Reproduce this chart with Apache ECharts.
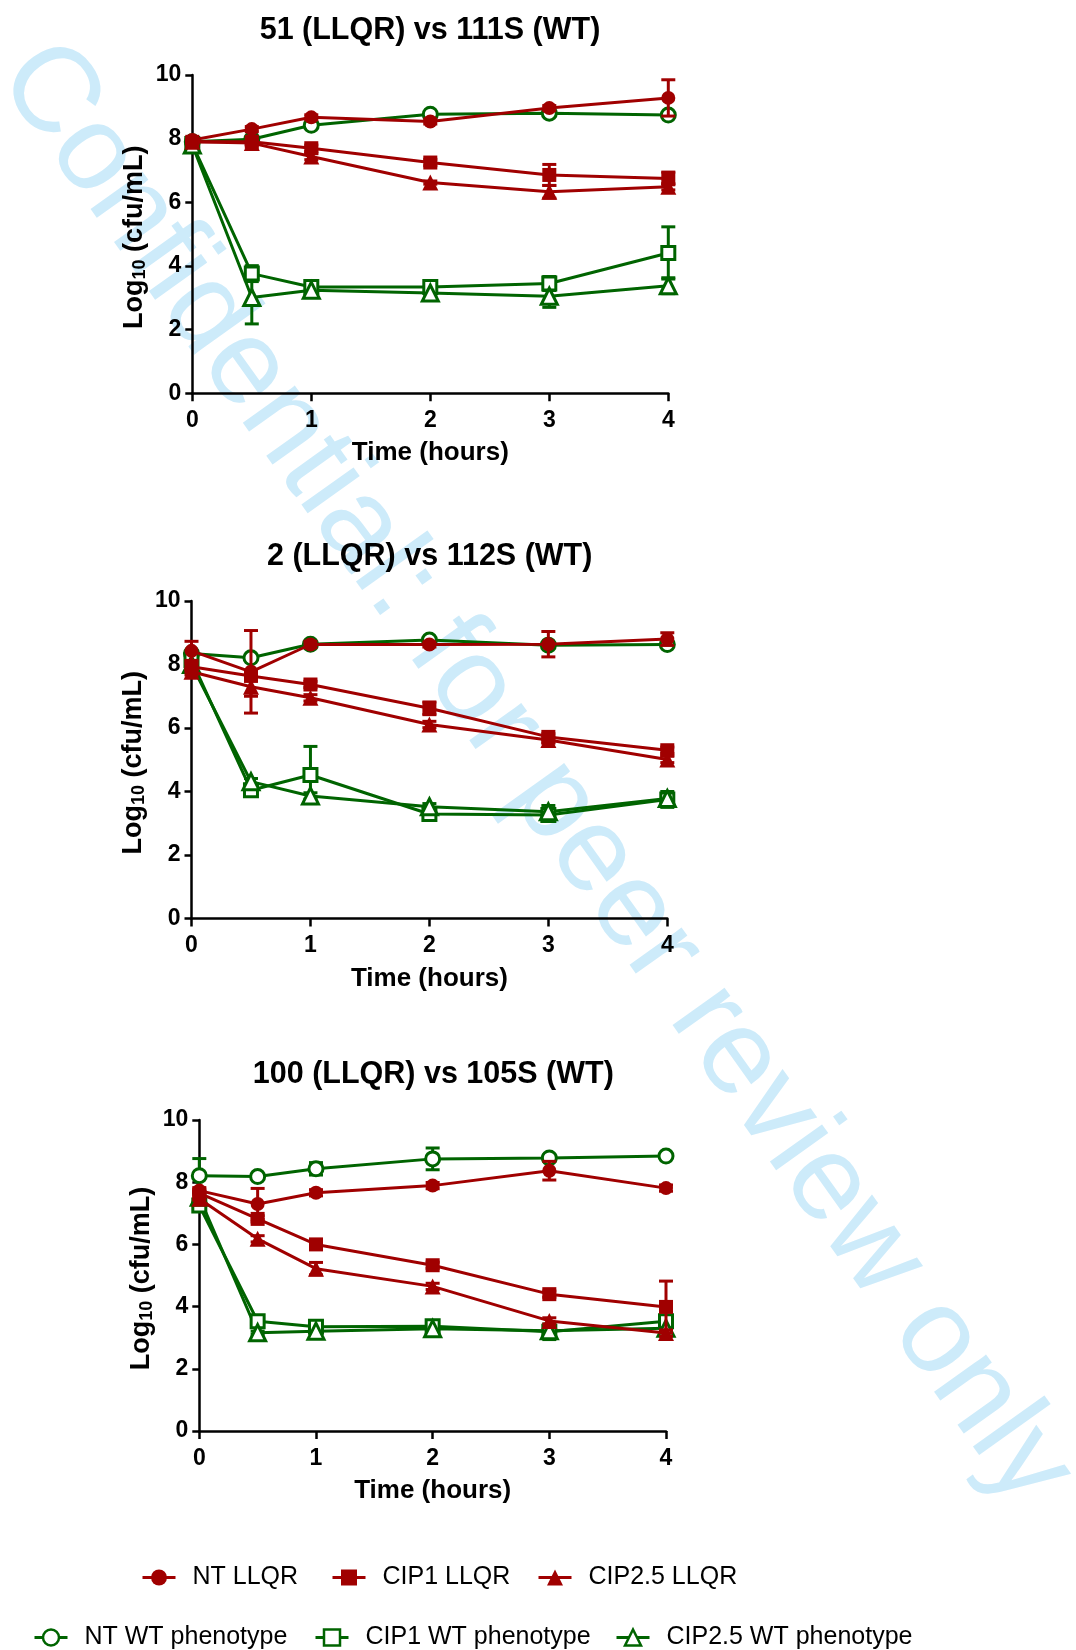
<!DOCTYPE html>
<html>
<head>
<meta charset="utf-8">
<script src="https://cdn.jsdelivr.net/npm/echarts@6/dist/echarts.min.js"></script>
<style>
  html, body { margin: 0; padding: 0; background: #fff; }
  #chart { width: 1076px; height: 1650px; }
</style>
</head>
<body>
<div id="chart"></div>
<script>
// ---------------- DATA ----------------
const timeHours = [0, 0.5, 1, 2, 3, 4];
const panelTitles = ['51 (LLQR) vs 111S (WT)', '2 (LLQR) vs 112S (WT)', '100 (LLQR) vs 105S (WT)'];
const seriesNames = ['NT LLQR', 'CIP1 LLQR', 'CIP2.5 LLQR', 'NT WT phenotype', 'CIP1 WT phenotype', 'CIP2.5 WT phenotype'];
const xAxisTitle = 'Time (hours)';
const watermarkText = 'Confidential: for peer review only';

// Panel 1: 51 (LLQR) vs 111S (WT)
const p1_ntLLQR      = [7.96, 8.30, 8.67, 8.54, 8.96, 9.28];
const p1_ntLLQR_err  = [0.05, 0.08, 0.08, 0.08, 0.08, 0.57];
const p1_cip1LLQR    = [7.90, 7.90, 7.70, 7.25, 6.86, 6.75];
const p1_cip1LLQR_err= [0.05, 0.10, 0.10, 0.10, 0.33, 0.20];
const p1_cip25LLQR   = [7.90, 7.86, 7.44, 6.62, 6.33, 6.49];
const p1_cip25LLQR_err=[0.05, 0.05, 0.10, 0.05, 0.20, 0.10];
const p1_ntWT        = [7.90, 7.98, 8.42, 8.77, 8.80, 8.74];
const p1_ntWT_err    = [0, 0, 0, 0, 0, 0];
const p1_cip1WT      = [7.83, 3.76, 3.34, 3.34, 3.45, 4.41];
const p1_cip1WT_err  = [0.05, 0.25, 0.10, 0.15, 0.22, 0.82];
const p1_cip25WT     = [7.80, 3.01, 3.24, 3.15, 3.05, 3.38];
const p1_cip25WT_err = [0.05, 0.83, 0.10, 0.10, 0.35, 0.25];

// Panel 2: 2 (LLQR) vs 112S (WT)
const p2_ntLLQR      = [8.43, 7.77, 8.63, 8.63, 8.64, 8.80];
const p2_ntLLQR_err  = [0.30, 1.30, 0.10, 0.08, 0.40, 0.20];
const p2_cip1LLQR    = [7.93, 7.64, 7.37, 6.62, 5.72, 5.30];
const p2_cip1LLQR_err= [0.10, 0.10, 0.10, 0.20, 0.10, 0.10];
const p2_cip25LLQR   = [7.77, 7.30, 6.95, 6.11, 5.62, 5.01];
const p2_cip25LLQR_err=[0.10, 0.30, 0.10, 0.10, 0.10, 0.10];
const p2_ntWT        = [8.35, 8.21, 8.64, 8.77, 8.61, 8.63];
const p2_ntWT_err    = [0, 0, 0, 0, 0, 0];
const p2_cip1WT      = [8.14, 4.04, 4.52, 3.29, 3.26, 3.75];
const p2_cip1WT_err  = [0.05, 0.10, 0.90, 0.10, 0.15, 0.25];
const p2_cip25WT     = [8.00, 4.31, 3.86, 3.52, 3.36, 3.78];
const p2_cip25WT_err = [0.05, 0.10, 0.10, 0.10, 0.20, 0.10];

// Panel 3: 100 (LLQR) vs 105S (WT)
const p3_ntLLQR      = [7.73, 7.30, 7.66, 7.89, 8.37, 7.81];
const p3_ntLLQR_err  = [0.05, 0.50, 0.10, 0.10, 0.30, 0.10];
const p3_cip1LLQR    = [7.65, 6.82, 6.00, 5.33, 4.40, 3.99];
const p3_cip1LLQR_err= [0.05, 0.10, 0.10, 0.10, 0.10, 0.83];
const p3_cip25LLQR   = [7.47, 6.18, 5.22, 4.65, 3.54, 3.15];
const p3_cip25LLQR_err=[0.05, 0.10, 0.20, 0.10, 0.10, 0.10];
const p3_ntWT        = [8.21, 8.18, 8.43, 8.75, 8.78, 8.84];
const p3_ntWT_err    = [0.55, 0, 0.20, 0.35, 0.10, 0];
const p3_cip1WT      = [7.25, 3.53, 3.35, 3.37, 3.19, 3.53];
const p3_cip1WT_err  = [0.10, 0.10, 0.20, 0.10, 0.25, 0.10];
const p3_cip25WT     = [7.52, 3.16, 3.21, 3.29, 3.22, 3.30];
const p3_cip25WT_err = [0.10, 0.05, 0.10, 0.10, 0.10, 0.10];

// ---------------- STYLE / LAYOUT ----------------
const FONT = '"Liberation Sans", Arial, Helvetica, sans-serif';
const RED = '#A00000';
const GREEN = '#006400';

const panels = [
  { vals: [p1_ntLLQR, p1_cip1LLQR, p1_cip25LLQR, p1_ntWT, p1_cip1WT, p1_cip25WT],
    errs: [p1_ntLLQR_err, p1_cip1LLQR_err, p1_cip25LLQR_err, p1_ntWT_err, p1_cip1WT_err, p1_cip25WT_err] },
  { vals: [p2_ntLLQR, p2_cip1LLQR, p2_cip25LLQR, p2_ntWT, p2_cip1WT, p2_cip25WT],
    errs: [p2_ntLLQR_err, p2_cip1LLQR_err, p2_cip25LLQR_err, p2_ntWT_err, p2_cip1WT_err, p2_cip25WT_err] },
  { vals: [p3_ntLLQR, p3_cip1LLQR, p3_cip25LLQR, p3_ntWT, p3_cip1WT, p3_cip25WT],
    errs: [p3_ntLLQR_err, p3_cip1LLQR_err, p3_cip25LLQR_err, p3_ntWT_err, p3_cip1WT_err, p3_cip25WT_err] }
];

const gridBoxes = [
  { left: 192.3, top: 75,   width: 476,   height: 318.3 },
  { left: 191.5, top: 601,  width: 475.8, height: 317.5 },
  { left: 199.3, top: 1120, width: 466.7, height: 311 }
];
const titleCenters = [[430, 30.5], [429.7, 556.3], [433.3, 1074.8]];

const seriesStyle = [
  { color: RED,   symbol: 'circle',   size: 14, open: false },
  { color: RED,   symbol: 'rect',     size: 14, open: false },
  { color: RED,   symbol: 'triangle', size: 16, open: false },
  { color: GREEN, symbol: 'circle',   size: 14, open: true },
  { color: GREEN, symbol: 'rect',     size: 13, open: true },
  { color: GREEN, symbol: 'triangle', size: 16, open: true }
];

const grids = gridBoxes.map(g => Object.assign({ containLabel: false }, g));

const axisLineStyle = { color: '#000', width: 2.5 };
const xAxes = gridBoxes.map((g, i) => ({
  type: 'value', gridIndex: i, min: 0, max: 4, interval: 1,
  axisLine: { show: true, onZero: false, lineStyle: axisLineStyle },
  axisTick: { show: true, length: 8, lineStyle: axisLineStyle },
  splitLine: { show: false },
  axisLabel: { fontSize: 23, fontWeight: 'bold', color: '#000', fontFamily: FONT, margin: 16 },
  name: xAxisTitle, nameLocation: 'middle', nameGap: 47,
  nameTextStyle: { fontSize: 26, fontWeight: 'bold', color: '#000', fontFamily: FONT }
}));
const yAxes = gridBoxes.map((g, i) => ({
  type: 'value', gridIndex: i, min: 0, max: 10, interval: 2,
  axisLine: { show: true, onZero: false, lineStyle: axisLineStyle },
  axisTick: { show: true, length: 7, lineStyle: axisLineStyle },
  splitLine: { show: false },
  axisLabel: { fontSize: 23, fontWeight: 'bold', color: '#000', fontFamily: FONT, margin: 11 },
  name: '{b|Log}{s|10}{b| (cfu/mL)}', nameLocation: 'middle', nameGap: 43,
  nameTextStyle: {
    fontFamily: FONT, color: '#000', padding: [0, 6, 0, 0],
    rich: {
      b: { fontSize: 27, fontWeight: 'bold', fontFamily: FONT, color: '#000', lineHeight: 30 },
      s: { fontSize: 18, fontWeight: 'bold', fontFamily: FONT, color: '#000', verticalAlign: 'bottom', lineHeight: 30 }
    }
  }
}));

const titles = panelTitles.map((t, i) => ({
  text: t, left: titleCenters[i][0], top: titleCenters[i][1] - 16, textAlign: 'center',
  padding: 0,
  textStyle: { fontSize: 30.5, fontWeight: 'bold', color: '#000', fontFamily: FONT, lineHeight: 32 }
}));

const series = [];
panels.forEach((p, pi) => {
  p.vals.forEach((vals, si) => {
    const st = seriesStyle[si];
    const isRed = si < 3;
    series.push({
      type: 'line', name: seriesNames[si], xAxisIndex: pi, yAxisIndex: pi,
      data: timeHours.map((t, k) => [t, vals[k]]),
      symbol: st.symbol, symbolSize: st.size, showSymbol: true,
      lineStyle: { color: st.color, width: 3 },
      itemStyle: st.open
        ? { color: '#ffffff', borderColor: st.color, borderWidth: 3 }
        : { color: st.color, borderColor: st.color, borderWidth: 0 },
      z: isRed ? 4 : 3,
      emphasis: { disabled: true },
      animation: false
    });
    const errData = timeHours.map((t, k) => [t, vals[k] - p.errs[si][k], vals[k] + p.errs[si][k]])
      .filter((d, k) => p.errs[si][k] > 0);
    series.push({
      type: 'custom', xAxisIndex: pi, yAxisIndex: pi,
      data: errData, encode: { x: 0, y: [1, 2] },
      z: isRed ? 4 : 3, silent: true, animation: false,
      renderItem: (params, api) => {
        const x = api.value(0);
        const lo = api.coord([x, api.value(1)]);
        const hi = api.coord([x, api.value(2)]);
        const h = 7;
        const s = { stroke: st.color, lineWidth: 3 };
        return { type: 'group', children: [
          { type: 'line', shape: { x1: lo[0], y1: lo[1], x2: hi[0], y2: hi[1] }, style: s },
          { type: 'line', shape: { x1: hi[0] - h, y1: hi[1], x2: hi[0] + h, y2: hi[1] }, style: s },
          { type: 'line', shape: { x1: lo[0] - h, y1: lo[1], x2: lo[0] + h, y2: lo[1] }, style: s }
        ]};
      }
    });
  });
});

// legend placement (icon left edge, row center y)
const legendPos = [
  [141, 1579], [331, 1579], [537, 1579],
  [33, 1639],  [314, 1639], [615, 1639]
];
const legends = seriesNames.map((n, i) => ({
  data: [n], left: legendPos[i][0], top: legendPos[i][1] - 14,
  orient: 'horizontal', itemWidth: 33, itemHeight: 20, padding: 0,
  selectedMode: false,
  lineStyle: { width: 3 },
  itemStyle: { borderWidth: i >= 3 ? 2.5 : 0 },
  formatter: '{g|}{name}',
  textStyle: { fontSize: 25, color: '#000', fontFamily: FONT, rich: { g: { width: 12 } } }
}));

const option = {
  animation: false,
  backgroundColor: '#ffffff',
  title: titles,
  grid: grids,
  xAxis: xAxes,
  yAxis: yAxes,
  legend: legends,
  series: series,
  graphic: [{
    type: 'text', x: 23, y: 57, rotation: -54.5 * Math.PI / 180, z: -10, silent: true,
    style: {
      text: watermarkText, fontSize: 121, fontFamily: FONT, fill: '#CDEBFA',
      align: 'left', verticalAlign: 'middle', textAlign: 'left', textVerticalAlign: 'middle'
    }
  }]
};

const chart = echarts.init(document.getElementById('chart'), null, { renderer: 'canvas', width: 1076, height: 1650 });
chart.setOption(option);
</script>
</body>
</html>
